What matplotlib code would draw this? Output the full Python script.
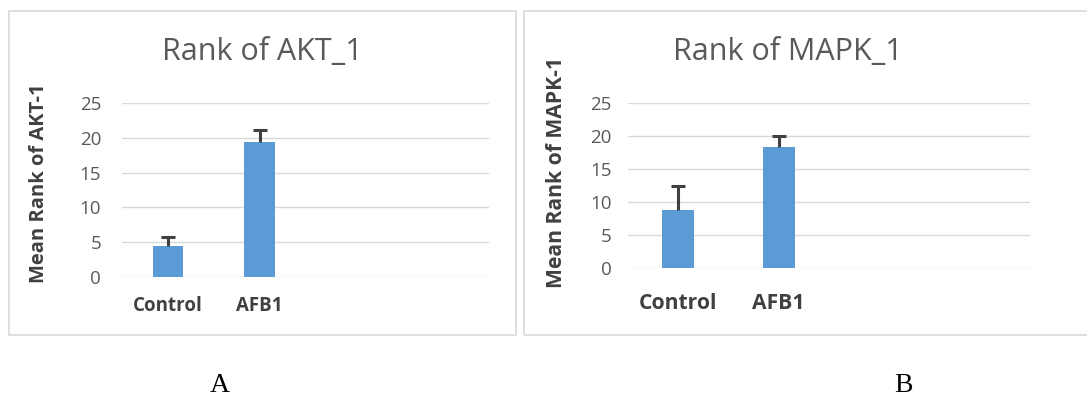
import matplotlib
matplotlib.use("Agg")
import matplotlib.pyplot as plt
from matplotlib.patches import Rectangle

# Category slots (the chart keeps two empty slots on the right)
categories = ["Control", "AFB1", "", ""]

akt_means = [4.5, 19.4]
akt_err = [1.3, 1.7]

mapk_means = [8.8, 18.4]
mapk_err = [3.6, 1.6]

y_ticks = [0, 5, 10, 15, 20, 25]

BAR = "#5b9bd5"
GRID = "#d9d9d9"
TICK = "#595959"
DARK = "#404040"

plt.rcParams["font.family"] = ["Open Sans", "DejaVu Sans"]

fig = plt.figure(figsize=(10.87, 4.0), dpi=100)
fig.patch.set_facecolor("white")

# Light frames around each chart
W, H = 1087, 400
for x0, x1 in [(9, 516), (524, 1095)]:
    fig.patches.append(Rectangle((x0 / W, 1 - 335 / H), (x1 - x0) / W, (335 - 11) / H,
                                 transform=fig.transFigure, fill=False,
                                 edgecolor=GRID, linewidth=1.2))


def draw_panel(rect, means, errs, width, title, title_x, ylabel, ylab_pos,
               ytick_pad, xtick_size, xtick_pad, ylab_size):
    ax = fig.add_axes(rect)
    pos = list(range(len(categories)))
    ax.bar(pos[:len(means)], means, width, color=BAR, zorder=3)
    # upper-only error bars: hide the lower cap that sits on the bar top
    eb = ax.errorbar(pos[:len(means)], means, yerr=[[0] * len(errs), errs], fmt="none",
                     ecolor=DARK, elinewidth=2.2, capsize=5, capthick=2.2, zorder=4)
    eb[1][0].set_visible(False)
    ax.set_xlim(-0.5, len(categories) - 0.5)
    ax.set_ylim(0, 25)
    ax.set_yticks(y_ticks)
    ax.set_xticks(pos)
    ax.set_xticklabels(categories, fontsize=xtick_size, fontweight="bold", color=DARK)
    ax.tick_params(axis="y", length=0, pad=ytick_pad, labelsize=13.5, labelcolor=TICK)
    ax.tick_params(axis="x", length=0, pad=xtick_pad)
    ax.grid(axis="y", color=GRID, linewidth=1, zorder=0)
    for s in ax.spines.values():
        s.set_visible(False)
    ax.set_ylabel(ylabel, fontsize=ylab_size, fontweight="bold", color=DARK)
    ax.yaxis.set_label_coords(*ylab_pos)
    fig.text(title_x, 1 - 52 / H, title, ha="center", va="center",
             fontsize=22, color=TICK)
    return ax


draw_panel([122 / W, 1 - 277 / H, 367 / W, 174 / H], akt_means, akt_err, 0.33,
           "Rank of AKT_1", 262 / W, "Mean Rank of AKT-1", (-0.199, 0.537),
           15, 13.5, 14, 14.5)
draw_panel([628 / W, 1 - 268 / H, 402 / W, 165 / H], mapk_means, mapk_err, 0.32,
           "Rank of MAPK_1", 788 / W, "Mean Rank of MAPK-1", (-0.152, 0.579),
           12, 15.2, 18, 15.2)

fig.text(220 / W, 1 - 385 / H, "A", ha="center", va="center", fontsize=20,
         family="Liberation Serif", color="black")
fig.text(903 / W, 1 - 385 / H, "B", ha="center", va="center", fontsize=20,
         family="Liberation Serif", color="black")

fig.savefig("out.png", dpi=100)
